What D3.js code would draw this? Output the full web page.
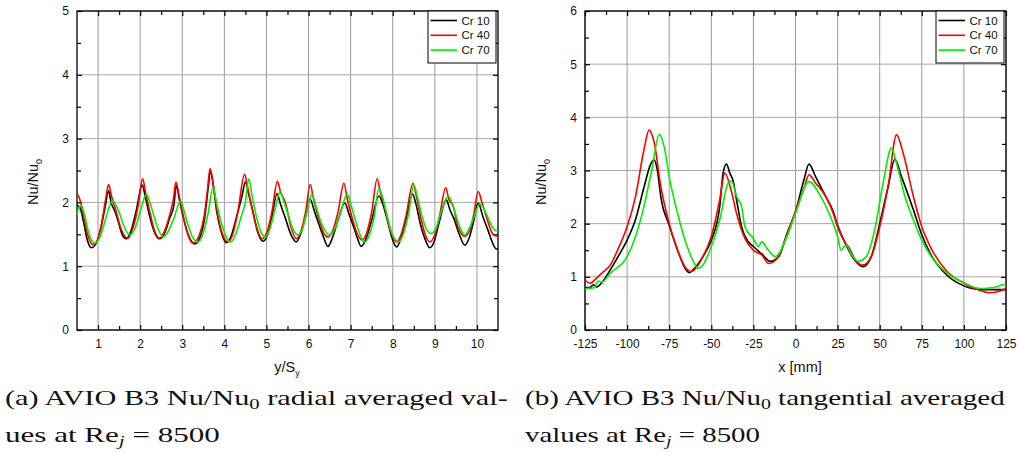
<!DOCTYPE html>
<html>
<head>
<meta charset="utf-8">
<script src="https://cdn.jsdelivr.net/npm/d3@7"></script>
<style>
  body { margin: 0; background: #fff; }
  svg { display: block; }
</style>
</head>
<body>
<svg id="fig" width="1019" height="453"></svg>
<script>
// ---- series labels and colours ----
const seriesNames = ["Cr 10", "Cr 40", "Cr 70"];
const seriesColors = ["#000000", "#ff0000", "#00ee00"];

// ---- axis ticks ----
const radialTicksX = [1, 2, 3, 4, 5, 6, 7, 8, 9, 10];
const radialTicksY = [0, 1, 2, 3, 4, 5];
const tangTicksX = [-125, -100, -75, -50, -25, 0, 25, 50, 75, 100, 125];
const tangTicksY = [0, 1, 2, 3, 4, 5, 6];

// ---- radial averaged Nu/Nu0 vs y/Sy ----
const radialCr10 = [[0.50,1.95],[0.57,1.92],[0.66,1.68],[0.75,1.40],[0.84,1.29],[0.93,1.33],[1.05,1.55],[1.16,1.90],[1.25,2.18],[1.31,2.00],[1.40,1.86],[1.48,1.70],[1.57,1.50],[1.67,1.43],[1.78,1.55],[1.90,1.85],[2.05,2.27],[2.12,2.10],[2.22,1.80],[2.33,1.55],[2.46,1.43],[2.58,1.52],[2.70,1.75],[2.80,1.95],[2.86,2.27],[2.93,2.05],[3.03,1.75],[3.15,1.48],[3.30,1.35],[3.42,1.45],[3.53,1.75],[3.62,2.25],[3.67,2.50],[3.73,2.30],[3.82,1.85],[3.92,1.55],[4.04,1.37],[4.16,1.47],[4.30,1.80],[4.42,2.10],[4.50,2.32],[4.57,2.15],[4.68,1.85],[4.80,1.52],[4.92,1.39],[5.03,1.50],[5.13,1.78],[5.25,2.14],[5.33,1.98],[5.45,1.75],[5.58,1.50],[5.71,1.38],[5.82,1.52],[5.93,1.78],[6.04,2.05],[6.13,1.88],[6.25,1.65],[6.36,1.45],[6.46,1.31],[6.57,1.45],[6.70,1.72],[6.86,1.99],[6.96,1.82],[7.07,1.62],[7.17,1.42],[7.25,1.31],[7.36,1.42],[7.50,1.72],[7.67,2.10],[7.76,1.98],[7.88,1.70],[7.98,1.45],[8.09,1.30],[8.20,1.45],[8.32,1.75],[8.47,2.13],[8.56,1.95],[8.66,1.65],[8.77,1.42],[8.88,1.29],[8.98,1.38],[9.10,1.68],[9.27,2.04],[9.36,1.88],[9.45,1.75],[9.58,1.50],[9.71,1.33],[9.82,1.45],[9.92,1.70],[10.03,1.99],[10.14,1.78],[10.27,1.55],[10.38,1.35],[10.46,1.27],[10.50,1.28]];
const radialCr40 = [[0.50,2.13],[0.55,2.08],[0.64,1.85],[0.75,1.50],[0.88,1.34],[0.98,1.40],[1.08,1.65],[1.18,2.05],[1.25,2.28],[1.32,2.10],[1.42,1.88],[1.55,1.58],[1.71,1.44],[1.82,1.58],[1.94,1.90],[2.06,2.37],[2.13,2.15],[2.23,1.85],[2.33,1.58],[2.46,1.44],[2.58,1.55],[2.70,1.80],[2.79,2.05],[2.85,2.32],[2.92,2.12],[3.02,1.80],[3.13,1.50],[3.26,1.36],[3.40,1.48],[3.52,1.78],[3.60,2.20],[3.66,2.53],[3.72,2.35],[3.82,1.90],[3.93,1.55],[4.09,1.38],[4.20,1.50],[4.32,1.85],[4.48,2.44],[4.55,2.25],[4.66,1.90],[4.78,1.58],[4.90,1.43],[5.02,1.55],[5.13,1.85],[5.26,2.33],[5.34,2.15],[5.45,2.00],[5.58,1.62],[5.71,1.43],[5.82,1.55],[5.93,1.85],[6.04,2.28],[6.12,2.05],[6.24,1.75],[6.36,1.52],[6.46,1.46],[6.57,1.55],[6.70,1.85],[6.84,2.30],[6.92,2.05],[7.04,1.75],[7.15,1.52],[7.27,1.41],[7.38,1.52],[7.50,1.85],[7.63,2.37],[7.71,2.15],[7.82,1.90],[7.95,1.55],[8.09,1.38],[8.20,1.50],[8.32,1.80],[8.48,2.30],[8.56,2.10],[8.67,1.75],[8.78,1.48],[8.88,1.38],[8.99,1.48],[9.10,1.75],[9.26,2.23],[9.33,2.05],[9.43,1.95],[9.55,1.62],[9.71,1.47],[9.82,1.55],[9.92,1.80],[10.03,2.17],[10.12,2.00],[10.25,1.72],[10.36,1.52],[10.42,1.48],[10.50,1.47]];
const radialCr70 = [[0.50,1.80],[0.54,1.92],[0.60,1.95],[0.68,1.80],[0.78,1.52],[0.92,1.36],[1.02,1.42],[1.14,1.65],[1.25,1.90],[1.35,2.03],[1.43,1.95],[1.50,1.85],[1.60,1.65],[1.75,1.49],[1.87,1.58],[2.00,1.85],[2.15,2.13],[2.23,2.00],[2.33,1.78],[2.43,1.58],[2.55,1.46],[2.67,1.55],[2.80,1.75],[2.96,2.02],[3.05,1.85],[3.15,1.62],[3.25,1.45],[3.38,1.38],[3.50,1.52],[3.62,1.85],[3.73,2.24],[3.82,1.98],[3.92,1.70],[4.03,1.48],[4.15,1.38],[4.27,1.50],[4.40,1.78],[4.50,2.00],[4.58,2.37],[4.66,2.10],[4.76,1.78],[4.86,1.55],[4.98,1.46],[5.08,1.58],[5.20,1.88],[5.33,2.17],[5.41,2.02],[5.52,1.80],[5.63,1.58],[5.76,1.49],[5.86,1.60],[5.96,1.85],[6.08,2.13],[6.17,1.95],[6.28,1.72],[6.40,1.55],[6.51,1.49],[6.62,1.58],[6.75,1.82],[6.92,2.13],[7.00,1.98],[7.10,1.75],[7.22,1.50],[7.33,1.38],[7.45,1.50],[7.56,1.78],[7.67,2.22],[7.76,2.08],[7.86,1.80],[7.98,1.52],[8.13,1.38],[8.25,1.50],[8.37,1.80],[8.50,2.27],[8.58,2.10],[8.68,1.82],[8.80,1.58],[8.92,1.51],[9.03,1.60],[9.15,1.85],[9.32,2.10],[9.40,2.00],[9.50,1.80],[9.60,1.60],[9.71,1.49],[9.80,1.57],[9.90,1.72],[10.07,1.98],[10.15,1.92],[10.27,1.75],[10.38,1.60],[10.46,1.56],[10.50,1.56]];

// ---- tangential averaged Nu/Nu0 vs x [mm] ----
const tangCr10 = [[-125,0.80],[-122,0.80],[-120,0.85],[-118,0.81],[-115,0.89],[-110,1.13],[-105,1.40],[-100,1.69],[-95,2.08],[-90,2.68],[-86,3.12],[-84,3.20],[-82,3.00],[-80,2.51],[-75,1.97],[-70,1.50],[-65,1.13],[-63,1.08],[-60,1.16],[-55,1.38],[-50,1.69],[-45,2.32],[-43,2.95],[-41,3.12],[-39,2.95],[-37,2.80],[-35,2.45],[-32,1.94],[-28,1.66],[-25,1.57],[-20,1.43],[-15,1.29],[-10,1.38],[-5,1.82],[0,2.23],[5,2.82],[8,3.12],[12,2.88],[18,2.51],[22,2.26],[25,1.97],[30,1.60],[35,1.32],[40,1.19],[45,1.38],[50,2.00],[55,2.70],[59,3.21],[63,2.88],[70,2.26],[75,1.79],[80,1.44],[90,1.03],[100,0.83],[110,0.76],[125,0.76]];
const tangCr40 = [[-125,0.94],[-122,0.88],[-118,0.98],[-115,1.07],[-110,1.22],[-105,1.55],[-100,1.94],[-95,2.51],[-90,3.39],[-87,3.76],[-84,3.54],[-80,2.70],[-75,2.00],[-70,1.50],[-65,1.16],[-62,1.10],[-55,1.38],[-50,1.76],[-45,2.45],[-42,2.95],[-38,2.60],[-35,2.19],[-30,1.72],[-25,1.50],[-20,1.41],[-16,1.25],[-10,1.38],[-5,1.80],[0,2.23],[5,2.66],[8,2.92],[12,2.76],[18,2.51],[22,2.23],[25,1.94],[30,1.62],[32,1.54],[35,1.35],[40,1.22],[45,1.38],[50,1.94],[55,2.70],[60,3.67],[64,3.32],[70,2.51],[75,1.94],[80,1.57],[90,1.10],[100,0.88],[110,0.74],[115,0.70],[120,0.72],[125,0.78]];
const tangCr70 = [[-125,0.78],[-120,0.79],[-117,0.92],[-115,0.90],[-110,1.07],[-100,1.38],[-95,1.76],[-90,2.32],[-85,3.07],[-81,3.68],[-78,3.45],[-75,2.88],[-70,2.19],[-65,1.63],[-60,1.25],[-58,1.16],[-55,1.22],[-50,1.57],[-45,2.07],[-40,2.76],[-38,2.80],[-35,2.51],[-32,2.32],[-30,1.94],[-25,1.72],[-22,1.57],[-20,1.66],[-17,1.54],[-12,1.38],[-5,1.76],[0,2.19],[8,2.79],[15,2.51],[20,2.19],[25,1.76],[27,1.50],[30,1.60],[33,1.44],[37,1.29],[42,1.38],[47,1.88],[52,2.76],[57,3.42],[60,3.13],[65,2.51],[70,2.07],[75,1.69],[80,1.41],[90,1.07],[100,0.89],[110,0.78],[115,0.79],[120,0.82],[123,0.85],[125,0.84]];

const svg = d3.select("#fig");
const sansFont = "'Liberation Sans', Arial, sans-serif";
const serifFont = "'Liberation Serif', 'Times New Roman', serif";
// tick labels use a plain hyphen for negatives
const plainFormat = d => String(d);

function drawPanel(cfg) {
  const g = svg.append("g");
  const x = d3.scaleLinear().domain(cfg.xDomain).range([cfg.left, cfg.right]);
  const y = d3.scaleLinear().domain(cfg.yDomain).range([cfg.bottom, cfg.top]);
  const w = cfg.right - cfg.left, h = cfg.bottom - cfg.top;

  // grid
  g.append("g").selectAll("line").data(cfg.xTicks).join("line")
    .attr("x1", d => x(d)).attr("x2", d => x(d))
    .attr("y1", cfg.top).attr("y2", cfg.bottom)
    .attr("stroke", "#9a9a9a").attr("stroke-width", 1);
  g.append("g").selectAll("line").data(cfg.yTicks).join("line")
    .attr("x1", cfg.left).attr("x2", cfg.right)
    .attr("y1", d => y(d)).attr("y2", d => y(d))
    .attr("stroke", "#a8a8a8").attr("stroke-width", 1);

  // minor tick positions sit midway between major ticks
  const mid = t => t.slice(1).map((v, i) => (v + t[i]) / 2);
  const xMinor = mid(cfg.xTicks);
  const yMinor = mid(cfg.yTicks);

  // axes: ticks inward on all four sides
  const bottomAx = d3.axisBottom(x).tickValues(cfg.xTicks).tickSize(-5).tickPadding(9).tickFormat(plainFormat);
  const topAx = d3.axisTop(x).tickValues(cfg.xTicks).tickSize(-5).tickFormat("");
  const leftAx = d3.axisLeft(y).tickValues(cfg.yTicks).tickSize(-5).tickPadding(8).tickFormat(plainFormat);
  const rightAx = d3.axisRight(y).tickValues(cfg.yTicks).tickSize(-5).tickFormat("");
  const minorB = d3.axisBottom(x).tickValues(xMinor).tickSize(-4).tickFormat("");
  const minorT = d3.axisTop(x).tickValues(xMinor).tickSize(-4).tickFormat("");
  const minorL = d3.axisLeft(y).tickValues(yMinor).tickSize(-4).tickFormat("");
  const minorR = d3.axisRight(y).tickValues(yMinor).tickSize(-4).tickFormat("");

  const axG = g.append("g");
  axG.append("g").attr("transform", `translate(0,${cfg.bottom})`).call(bottomAx);
  axG.append("g").attr("transform", `translate(0,${cfg.top})`).call(topAx);
  axG.append("g").attr("transform", `translate(${cfg.left},0)`).call(leftAx);
  axG.append("g").attr("transform", `translate(${cfg.right},0)`).call(rightAx);
  axG.append("g").attr("transform", `translate(0,${cfg.bottom})`).call(minorB);
  axG.append("g").attr("transform", `translate(0,${cfg.top})`).call(minorT);
  axG.append("g").attr("transform", `translate(${cfg.left},0)`).call(minorL);
  axG.append("g").attr("transform", `translate(${cfg.right},0)`).call(minorR);
  axG.selectAll(".domain").remove();
  axG.selectAll(".tick line").attr("stroke", "#000").attr("stroke-width", 1.2);
  axG.selectAll(".tick text").attr("font-family", sansFont).attr("font-size", 12).attr("fill", "#111");

  // frame
  g.append("rect").attr("x", cfg.left).attr("y", cfg.top).attr("width", w).attr("height", h)
    .attr("fill", "none").attr("stroke", "#000").attr("stroke-width", 1.3);

  // curves
  const clipId = "clip" + cfg.id;
  svg.append("clipPath").attr("id", clipId).append("rect")
    .attr("x", cfg.left).attr("y", cfg.top).attr("width", w).attr("height", h);
  const line = d3.line().x(d => x(d[0])).y(d => y(d[1])).curve(d3.curveMonotoneX);
  g.append("g").attr("clip-path", `url(#${clipId})`).selectAll("path").data(cfg.series).join("path")
    .attr("d", d => line(d)).attr("fill", "none")
    .attr("stroke", (d, i) => seriesColors[i]).attr("stroke-width", 1.6)
    .attr("stroke-linejoin", "round");

  // legend
  const lg = g.append("g").attr("transform", `translate(${cfg.legendX},${cfg.top})`);
  lg.append("rect").attr("x", 0).attr("y", 0).attr("width", 68).attr("height", 52)
    .attr("fill", "#fff").attr("stroke", "#000").attr("stroke-width", 1);
  seriesNames.forEach((name, i) => {
    const yy = 9.5 + i * 14.8;
    lg.append("line").attr("x1", 2.5).attr("x2", 29).attr("y1", yy).attr("y2", yy)
      .attr("stroke", seriesColors[i]).attr("stroke-width", 1.6);
    lg.append("text").attr("x", 33.5).attr("y", yy + 4).text(name)
      .attr("font-family", sansFont).attr("font-size", 11.5).attr("fill", "#111");
  });

  // y-axis title Nu/Nu0
  const yt = g.append("text").attr("transform", `translate(${cfg.yTitleX},${cfg.yTitleY}) rotate(-90)`)
    .attr("text-anchor", "middle").attr("font-family", sansFont).attr("font-size", 14.5).attr("fill", "#111");
  yt.append("tspan").text("Nu/Nu");
  yt.append("tspan").text("0").attr("font-size", 9).attr("dy", 4);

  // x-axis title
  const xt = g.append("text").attr("x", cfg.xTitleX).attr("y", 372)
    .attr("text-anchor", "middle").attr("font-family", sansFont).attr("font-size", 14.5).attr("fill", "#111");
  xt.append("tspan").text(cfg.xTitle);
  if (cfg.xTitleSub) xt.append("tspan").text(cfg.xTitleSub).attr("font-size", 9).attr("dy", 4);
}

drawPanel({
  id: "a", left: 77, right: 498, top: 11, bottom: 330,
  xDomain: [0.5, 10.5], yDomain: [0, 5],
  xTicks: radialTicksX, yTicks: radialTicksY,
  series: [radialCr10, radialCr40, radialCr70],
  legendX: 428, yTitleX: 38, yTitleY: 182,
  xTitle: "y/S", xTitleSub: "y", xTitleX: 287
});

drawPanel({
  id: "b", left: 585, right: 1006, top: 11, bottom: 330,
  xDomain: [-125, 125], yDomain: [0, 6],
  xTicks: tangTicksX, yTicks: tangTicksY,
  series: [tangCr10, tangCr40, tangCr70],
  legendX: 936, yTitleX: 546, yTitleY: 182,
  xTitle: "x [mm]", xTitleX: 800
});

// ---- captions (serif), stretched to the column widths ----
function caption(x0, baseline, targetWidth, parts) {
  const t = svg.append("text").attr("x", 0).attr("y", 0)
    .attr("font-family", serifFont).attr("font-size", 22).attr("fill", "#111");
  parts.forEach(p => {
    const s = t.append("tspan").text(p.t);
    if (p.sub) s.attr("font-size", 15).attr("dy", 4);
    if (p.italic) s.style("font-style", "italic");
    if (p.back) s.attr("dy", -4);
  });
  const bb = t.node().getBBox();
  const sx = targetWidth / bb.width;
  t.attr("transform", `translate(${x0 - bb.x * sx},${baseline}) scale(${sx},1)`);
}

caption(5, 405, 503, [
  {t: "(a) AVIO B3 Nu/Nu"}, {t: "0", sub: true}, {t: " radial averaged val-", back: true}
]);
caption(5, 442, 215, [
  {t: "ues at Re"}, {t: "j", sub: true, italic: true}, {t: " = 8500", back: true}
]);
caption(525, 405, 480, [
  {t: "(b) AVIO B3 Nu/Nu"}, {t: "0", sub: true}, {t: " tangential averaged", back: true}
]);
caption(525, 442, 235, [
  {t: "values at Re"}, {t: "j", sub: true, italic: true}, {t: " = 8500", back: true}
]);
</script>
</body>
</html>
